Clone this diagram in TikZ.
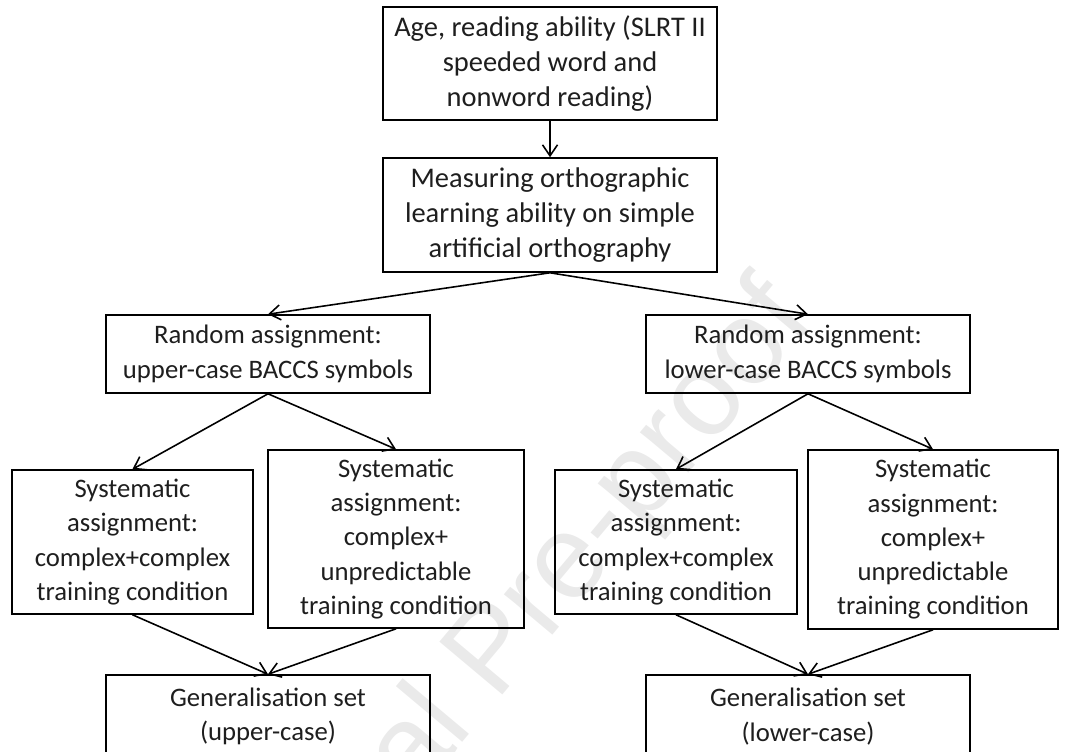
\documentclass[tikz,border=0pt]{standalone}
\usepackage{fontspec}
\setmainfont{Carlito}
\newfontfamily\marcafont{Liberation Sans}
\usepackage{tikz}
\usetikzlibrary{arrows.meta, positioning, calc}
\definecolor{marcagris}{RGB}{234,234,234}
\definecolor{tinta}{RGB}{30,30,30}
\tikzset{>={Straight Barb[length=2.2mm,width=3mm]}}
\tikzset{caja/.style={draw, align=center, inner sep=0pt, text=tinta, font=\fontsize{15.2}{19.5}\selectfont},
	cajagrande/.style={caja, font=\fontsize{16.2}{20}\selectfont}}

\begin{document}
\begin{tikzpicture}[x=0.02cm, y=-0.02cm, line width=0.9pt]
			\useasboundingbox (0,0) rectangle (1074,751);
			\clip (0,0) rectangle (1074,751);

			%watermark
			\node [rotate=50, marcagris, font=\marcafont\fontsize{68}{68}\selectfont] (marca) at (496,655) {Journal Pre-proof};

			\node [cajagrande, minimum width=6.68cm, minimum height=2.26cm] (edad) at (550,63.5) {Age, reading ability (SLRT II\\ speeded word and\\ nonword reading)};
			\node [cajagrande, minimum width=6.68cm, minimum height=2.28cm] (medir) at (550,215) {Measuring orthographic\\ learning ability on simple\\ artificial orthography};

			\node [caja, minimum width=6.48cm, minimum height=1.56cm] (azarM) at (268,354) {Random assignment:\\ upper-case BACCS symbols};
			\node [caja, minimum width=6.48cm, minimum height=1.56cm] (azarm) at (808,354) {Random assignment:\\ lower-case BACCS symbols};

			\node [caja, minimum width=4.82cm, minimum height=2.88cm] (sisMC) at (132.5,542) {Systematic\\ assignment:\\ complex+complex\\ training condition};
			\node [caja, minimum width=5.12cm, minimum height=3.56cm] (sisMU) at (396,539) {Systematic\\ assignment:\\ complex+\\ unpredictable\\ training condition};
			\node [caja, minimum width=4.84cm, minimum height=2.88cm] (sismC) at (676,542) {Systematic\\ assignment:\\ complex+complex\\ training condition};
			\node [caja, minimum width=5.00cm, minimum height=3.58cm] (sismU) at (933,539.5) {Systematic\\ assignment:\\ complex+\\ unpredictable\\ training condition};

			\node [caja, minimum width=6.48cm, minimum height=1.66cm] (genM) at (268,716.5) {Generalisation set\\ (upper-case)};
			\node [caja, minimum width=6.48cm, minimum height=1.66cm] (genm) at (808,716.5) {Generalisation set\\ (lower-case)};

			\draw [->] (edad.south) -- (medir.north);
			\draw [->] (medir.south) -- (azarM.north);
			\draw [->] (medir.south) -- (azarm.north);

			\draw [->] (azarM.south) -- (sisMC.north);
			\draw [->] (azarM.south) -- (sisMU.north);
			\draw [->] (azarm.south) -- (sismC.north);
			\draw [->] (azarm.south) -- (sismU.north);

			\draw [->] (sisMC.south) -- (genM.north);
			\draw [->] (sisMU.south) -- (genM.north);
			\draw [->] (sismC.south) -- (genm.north);
			\draw [->] (sismU.south) -- (genm.north);
	\end{tikzpicture}
\end{document}
